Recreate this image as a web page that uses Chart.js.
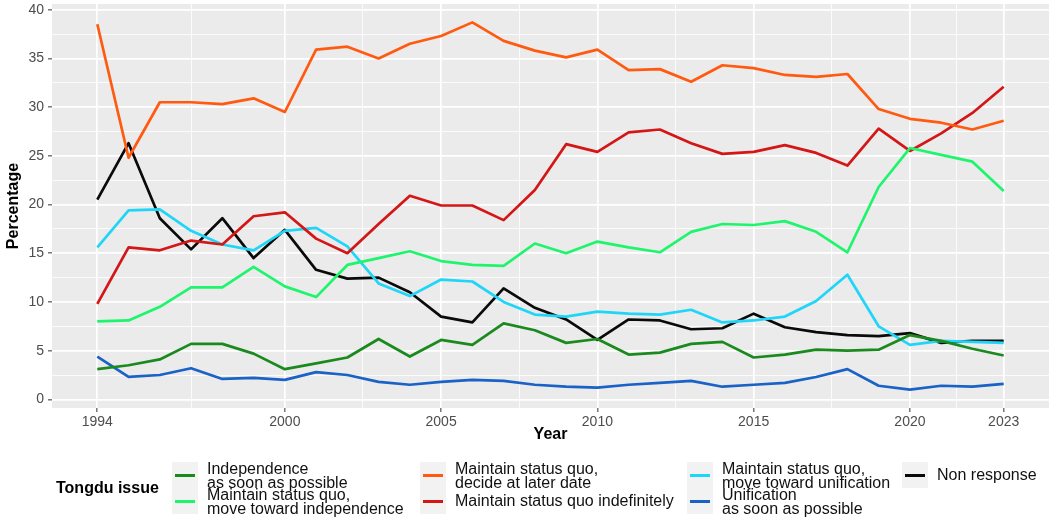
<!DOCTYPE html>
<html>
<head>
<meta charset="utf-8">
<script src="https://cdn.jsdelivr.net/npm/chart.js@4"></script>
<style>
  html, body { margin: 0; padding: 0; background: #ffffff; }
  #wrap { position: relative; width: 1049px; height: 517px; font-family: "Liberation Sans", Arial, sans-serif; }
  #chart { position: absolute; left: 0; top: 0; }
  #legend { position: absolute; left: 0; top: 0; width: 1049px; height: 517px; pointer-events: none; }
  .ltitle { position: absolute; left: 56px; top: 478px; font-weight: bold; font-size: 16px; line-height: 20px; color: #000; }
  .lcol { position: absolute; top: 462px; }
  .lentry { position: relative; height: 26px; }
  .lkey { position: absolute; left: 0; top: 0; width: 26px; height: 26px; background: #F2F2F2; }
  .lkey span { position: absolute; left: 3px; right: 3px; top: 11.5px; height: 3px; }
  .ltext { position: absolute; left: 35px; top: 50%; transform: translateY(-50%); white-space: nowrap; font-size: 16px; line-height: 13.5px; color: #111; }
</style>
</head>
<body>
<div id="wrap">
  <canvas id="chart" width="1049" height="517"></canvas>
  <div id="legend"></div>
</div>
<script>
// ---- data ----
const years = [1994,1995,1996,1997,1998,1999,2000,2001,2002,2003,2004,2005,2006,2007,2008,2009,2010,2011,2012,2013,2014,2015,2016,2017,2018,2019,2020,2021,2022,2023];

const independenceASAP   = [3.1,3.5,4.1,5.7,5.7,4.7,3.1,3.7,4.3,6.2,4.4,6.1,5.6,7.8,7.1,5.8,6.2,4.6,4.8,5.7,5.9,4.3,4.6,5.1,5.0,5.1,6.6,6.0,5.2,4.5];
const towardIndependence = [8.0,8.1,9.5,11.5,11.5,13.6,11.6,10.5,13.8,14.5,15.2,14.2,13.8,13.7,16.0,15.0,16.2,15.6,15.1,17.2,18.0,17.9,18.3,17.2,15.1,21.8,25.8,25.1,24.4,21.4];
const decideLater        = [38.5,24.8,30.5,30.5,30.3,30.9,29.5,35.9,36.2,35.0,36.5,37.3,38.7,36.8,35.8,35.1,35.9,33.8,33.9,32.6,34.3,34.0,33.3,33.1,33.4,29.8,28.8,28.4,27.7,28.6];
const indefinitely       = [9.8,15.6,15.3,16.3,15.9,18.8,19.2,16.5,15.0,18.0,20.9,19.9,19.9,18.4,21.5,26.2,25.4,27.4,27.7,26.3,25.2,25.4,26.1,25.3,24.0,27.8,25.5,27.3,29.4,32.1];
const towardUnification  = [15.6,19.4,19.5,17.3,15.9,15.3,17.3,17.6,15.7,11.9,10.6,12.3,12.1,10.0,8.7,8.5,9.0,8.8,8.7,9.2,7.9,8.1,8.5,10.1,12.8,7.5,5.6,6.0,5.9,5.8];
const unificationASAP    = [4.4,2.3,2.5,3.2,2.1,2.2,2.0,2.8,2.5,1.8,1.5,1.8,2.0,1.9,1.5,1.3,1.2,1.5,1.7,1.9,1.3,1.5,1.7,2.3,3.1,1.4,1.0,1.4,1.3,1.6];
const nonResponse        = [20.5,26.3,18.6,15.4,18.6,14.5,17.4,13.3,12.4,12.5,11.0,8.5,7.9,11.4,9.4,8.2,6.1,8.2,8.1,7.2,7.3,8.8,7.4,6.9,6.6,6.5,6.8,5.8,6.0,6.0];

const seriesNames = [
  "Independence\nas soon as possible",
  "Maintain status quo,\nmove toward independence",
  "Maintain status quo,\ndecide at later date",
  "Maintain status quo indefinitely",
  "Maintain status quo,\nmove toward unification",
  "Unification\nas soon as possible",
  "Non response"
];
const seriesValues = [independenceASAP, towardIndependence, decideLater, indefinitely, towardUnification, unificationASAP, nonResponse];
const seriesColors = ["#1B8A1E", "#1EF56C", "#FF5A10", "#D41616", "#1FD5F8", "#1A62C6", "#0A0A0A"];

const xBreaks = [1994, 2000, 2005, 2010, 2015, 2020, 2023];
const xMinor  = [1997, 2002.5, 2007.5, 2012.5, 2017.5, 2021.5];
const yBreaks = [0, 5, 10, 15, 20, 25, 30, 35, 40];
const yMinor  = [2.5, 7.5, 12.5, 17.5, 22.5, 27.5, 32.5, 37.5];

const legendTitle = "Tongdu issue";
const xTitle = "Year";
const yTitle = "Percentage";

// ---- chart ----
const FONT = "'Liberation Sans', Arial, sans-serif";

const datasets = seriesNames.map((name, i) => ({
  label: name.replace("\n", " "),
  data: years.map((y, j) => ({ x: y, y: seriesValues[i][j] })),
  borderColor: seriesColors[i],
  backgroundColor: seriesColors[i],
  borderWidth: 2.7,
  pointRadius: 0,
  tension: 0,
  borderJoinStyle: 'round',
  borderCapStyle: 'butt',
  fill: false
}));

const panelBg = {
  id: 'panelBg',
  beforeDraw(chart) {
    const { ctx, chartArea: a } = chart;
    ctx.save();
    ctx.fillStyle = '#EBEBEB';
    ctx.fillRect(a.left, a.top, a.right - a.left, a.bottom - a.top);
    ctx.restore();
  }
};

function isMajor(list, v) { return list.some(b => Math.abs(b - v) < 1e-6); }

new Chart(document.getElementById('chart'), {
  type: 'line',
  data: { datasets },
  plugins: [panelBg],
  options: {
    responsive: false,
    devicePixelRatio: 1,
    animation: false,
    parsing: false,
    normalized: true,
    layout: { padding: { top: 4, right: 0, bottom: 59, left: 0 } },
    plugins: { legend: { display: false }, tooltip: { enabled: false } },
    scales: {
      x: {
        type: 'linear',
        min: 1992.55,
        max: 2024.45,
        afterBuildTicks(scale) {
          scale.ticks = [...xBreaks, ...xMinor].sort((a, b) => a - b).map(v => ({ value: v }));
        },
        afterFit(scale) { scale.height = 50; scale.paddingLeft = 0; scale.paddingRight = 0; },
        ticks: {
          autoSkip: false,
          maxRotation: 0,
          padding: 2,
          color: '#4D4D4D',
          font: { family: FONT, size: 14 },
          callback: (v) => isMajor(xBreaks, v) ? String(v) : ''
        },
        grid: {
          color: '#FFFFFF',
          lineWidth: (ctx) => (ctx.tick && isMajor(xBreaks, ctx.tick.value)) ? 1.7 : 0.8,
          drawTicks: true,
          tickLength: 4,
          tickWidth: 1,
          tickColor: (ctx) => (ctx.tick && isMajor(xBreaks, ctx.tick.value)) ? '#333333' : 'rgba(0,0,0,0)'
        },
        border: { display: false },
        title: {
          display: true,
          text: xTitle,
          color: '#000',
          font: { family: FONT, size: 16, weight: 'bold' },
          padding: { top: 0, bottom: 14 }
        }
      },
      y: {
        type: 'linear',
        min: -0.885,
        max: 40.585,
        afterBuildTicks(scale) {
          scale.ticks = [...yBreaks, ...yMinor].sort((a, b) => a - b).map(v => ({ value: v }));
        },
        afterFit(scale) { scale.width = 52; scale.paddingTop = 0; scale.paddingBottom = 0; },
        ticks: {
          autoSkip: false,
          padding: 4,
          color: '#4D4D4D',
          font: { family: FONT, size: 14 },
          callback: (v) => isMajor(yBreaks, v) ? String(v) : ''
        },
        grid: {
          color: '#FFFFFF',
          lineWidth: (ctx) => (ctx.tick && isMajor(yBreaks, ctx.tick.value)) ? 1.7 : 0.8,
          drawTicks: true,
          tickLength: 4,
          tickWidth: 1,
          tickColor: (ctx) => (ctx.tick && isMajor(yBreaks, ctx.tick.value)) ? '#333333' : 'rgba(0,0,0,0)'
        },
        border: { display: false },
        title: {
          display: true,
          text: yTitle,
          color: '#000',
          font: { family: FONT, size: 16, weight: 'bold' },
          padding: { top: 4, bottom: 0 }
        }
      }
    }
  }
});

// ---- legend (HTML, built from the same arrays) ----
const legendEl = document.getElementById('legend');
const t = document.createElement('div');
t.className = 'ltitle';
t.textContent = legendTitle;
legendEl.appendChild(t);

const legendColumns = [[0, 1], [2, 3], [4, 5], [6]];
const columnLefts = [172, 420, 687, 902];
legendColumns.forEach((idxs, c) => {
  const col = document.createElement('div');
  col.className = 'lcol';
  col.style.left = columnLefts[c] + 'px';
  idxs.forEach(i => {
    const e = document.createElement('div');
    e.className = 'lentry';
    const k = document.createElement('div');
    k.className = 'lkey';
    const s = document.createElement('span');
    s.style.background = seriesColors[i];
    k.appendChild(s);
    const tx = document.createElement('div');
    tx.className = 'ltext';
    tx.innerHTML = seriesNames[i].split("\n").map(p => p.replace(/&/g, '&amp;').replace(/</g, '&lt;')).join('<br>');
    e.appendChild(k);
    e.appendChild(tx);
    col.appendChild(e);
  });
  legendEl.appendChild(col);
});
</script>
</body>
</html>
